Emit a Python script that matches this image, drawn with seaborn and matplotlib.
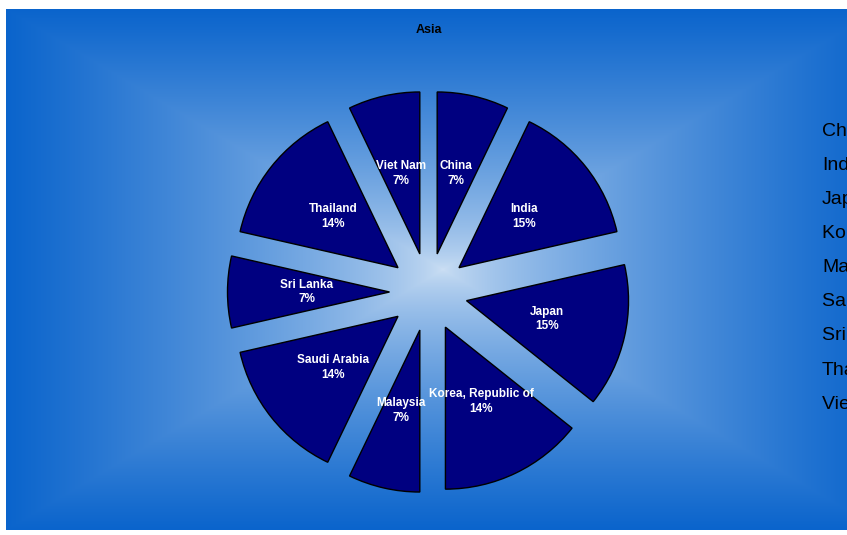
import numpy as np
import matplotlib
matplotlib.use("Agg")
import matplotlib.pyplot as plt
import seaborn as sns

sns.set_style("white")
plt.rcParams["font.family"] = ["Liberation Sans", "DejaVu Sans"]
plt.rcParams["text.color"] = "black"

# data
countries = ["China", "India", "Japan", "Korea, Republic of", "Malaysia",
             "Saudi Arabia", "Sri Lanka", "Thailand", "Viet Nam"]
counts = [1, 2, 2, 2, 1, 2, 1, 2, 1]
pct_labels = ["7%", "15%", "15%", "14%", "7%", "14%", "7%", "14%", "7%"]
title = "Asia"

W, H = 847, 535
fig = plt.figure(figsize=(W / 100, H / 100), dpi=100)
fig.patch.set_facecolor("white")
ax = fig.add_axes([0, 0, 1, 1])

# rectangular gradient background (light centre -> blue edges)
x0, x1, y0, y1 = 6, 880, 9, 530
cx, cy = (x0 + x1) / 2, (y0 + y1) / 2
xs = np.arange(x0, W) + 0.5
ys = np.arange(y0, y1) + 0.5
gx, gy = np.meshgrid(xs, ys)
t = np.maximum(np.abs(gx - cx) / ((x1 - x0) / 2), np.abs(gy - cy) / ((y1 - y0) / 2))
t = np.clip(t, 0, 1) ** 0.7
edge = np.array([10, 100, 204]) / 255
centre = np.array([205, 224, 244]) / 255
img = centre[None, None, :] * (1 - t[..., None]) + edge[None, None, :] * t[..., None]
ax.imshow(img, extent=[x0, W, H - y1, H - y0], origin="upper", aspect="auto", zorder=0)

# pie (explode is an absolute offset, same units as radius)
R = 162
wedges, _, autotexts = ax.pie(
    counts, startangle=90, counterclock=False,
    center=(428.5, H - 292), radius=R,
    explode=[39] * len(counts),
    colors=["#000080"] * len(counts),
    wedgeprops=dict(edgecolor="black", linewidth=1),
    autopct="%.0f%%", pctdistance=0.51,
    textprops=dict(color="white", fontsize=8.5, fontweight="bold"),
)
# shown percentages are rounded so they add up to 100
for name, pct, txt in zip(countries, pct_labels, autotexts):
    txt.set_text(f"{name}\n{pct}")
    txt.set_ha("center")
    txt.set_linespacing(1.3)

ax.text(429, H - 30, title, ha="center", va="center", fontsize=9,
        fontweight="bold", color="black")

leg = ax.legend(wedges, countries, loc="upper left",
                bbox_to_anchor=(822 / W, 1 - 122 / H), bbox_transform=fig.transFigure,
                frameon=False, handlelength=0, handletextpad=0, borderpad=0,
                borderaxespad=0, labelspacing=0.85, fontsize=14)
for h in leg.legend_handles:
    h.set_visible(False)
for txt in leg.get_texts():
    txt.set_color("black")

ax.set_xlim(0, W)
ax.set_ylim(0, H)
ax.set_aspect("auto")
ax.axis("off")

fig.savefig("out.png", dpi=100)
